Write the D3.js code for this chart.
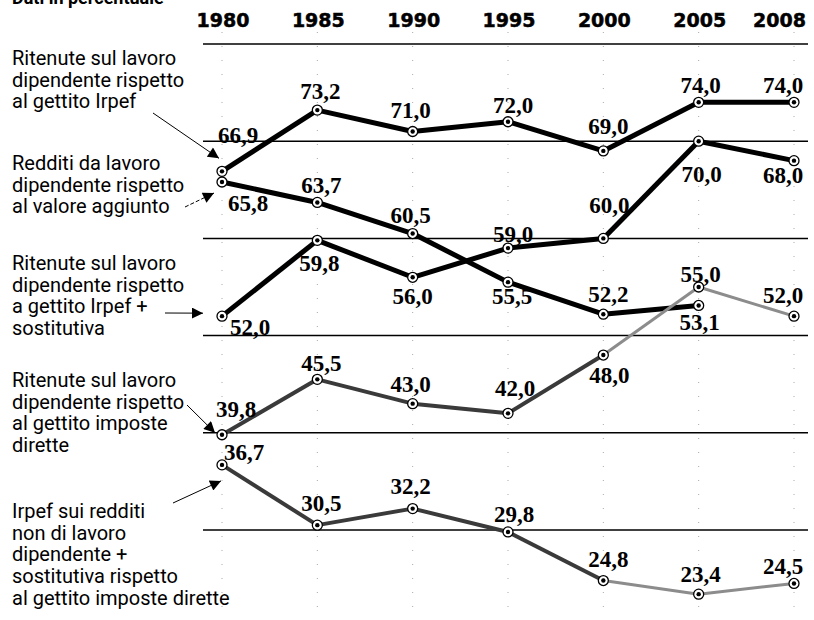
<!DOCTYPE html>
<html>
<head>
<meta charset="utf-8">
<script src="https://cdn.jsdelivr.net/npm/d3@7"></script>
<style>
  body { margin: 0; background: #fff; }
  svg { display: block; }
</style>
</head>
<body>
<div id="chart"></div>
<script>
// data (percentuali)
const years = ["1980", "1985", "1990", "1995", "2000", "2005", "2008"];
const ritenuteIrpef = [66.9, 73.2, 71.0, 72.0, 69.0, 74.0, 74.0];
const redditiValoreAggiunto = [65.8, 63.7, 60.5, 55.5, 52.2, 53.1, null];
const ritenuteIrpefSostitutiva = [52.0, 59.8, 56.0, 59.0, 60.0, 70.0, 68.0];
const ritenuteImposteDirette = [39.8, 45.5, 43.0, 42.0, 48.0, 55.0, 52.0];
const irpefNonLavoro = [36.7, 30.5, 32.2, 29.8, 24.8, 23.4, 24.5];
const gridValues = [80, 70, 60, 50, 40, 30];

const seriesNames = [
  ["Ritenute sul lavoro", "dipendente rispetto", "al gettito Irpef"],
  ["Redditi da lavoro", "dipendente rispetto", "al valore aggiunto"],
  ["Ritenute sul lavoro", "dipendente rispetto", "a gettito Irpef +", "sostitutiva"],
  ["Ritenute sul lavoro", "dipendente rispetto", "al gettito imposte", "dirette"],
  ["Irpef sui redditi", "non di lavoro", "dipendente +", "sostitutiva rispetto", "al gettito imposte dirette"]
];
const title = "Dati in percentuale";

// layout: value-label offsets from each point, and where the lighter grey starts
const labelOffsets = [
  [[16, -28], [3, -11], [-2, -13], [5, -9], [5, -17], [2, -9], [-11, -9]],
  [[26, 29], [4, -9], [-2, -11], [4, 22], [5, -12], [1, 25], null],
  [[28, 19], [2, 31], [0, 27], [5, -6], [6, -25], [3, 41], [-11, 22]],
  [[14, -18], [4, -8], [-2, -12], [7, -17], [6, 28], [2, -5], [-11, -13]],
  [[22, -5], [4, -14], [-2, -15], [6, -10], [5, -14], [2, -12], [-11, -9]]
];
const nameBaselines = [65, 170, 270, 387, 518];
// arrow: start point, tip offset from the series' first point
const arrows = [
  {from: [153, 113], tip: [-3, -13]},
  {from: [185, 207], tip: [-8, 11], dash: "4,2"},
  {from: [165, 313], tip: [-19, -3]},
  {from: [187, 405], tip: [-7, -2]},
  {from: [173, 503], tip: [-1, 16]}
];

const series = [ritenuteIrpef, redditiValoreAggiunto, ritenuteIrpefSostitutiva,
                ritenuteImposteDirette, irpefNonLavoro];
const seriesStyle = [
  {color: "#000", width: 5},
  {color: "#000", width: 5},
  {color: "#000", width: 5},
  {color: "#3a3a3a", width: 4, fadeFrom: 4},
  {color: "#3a3a3a", width: 4, fadeFrom: 4}
];

const width = 814, height = 620;

const svg = d3.select("#chart").append("svg")
    .attr("width", width)
    .attr("height", height);

svg.append("defs").append("marker")
    .attr("id", "arrowhead")
    .attr("viewBox", "0 0 10 10")
    .attr("refX", 10).attr("refY", 5)
    .attr("markerWidth", 13).attr("markerHeight", 11)
    .attr("markerUnits", "userSpaceOnUse")
    .attr("orient", "auto")
    .append("path")
    .attr("d", "M0,0L10,5L0,10Z")
    .attr("fill", "#000");

const x = d3.scalePoint().domain(years).range([222, 794]);
const y = d3.scaleLinear().domain([30, 80]).range([530, 44]);

// title (cropped at top in the original)
svg.append("text")
    .attr("x", 12).attr("y", 4)
    .attr("font-family", "Roboto, sans-serif")
    .attr("font-weight", "bold")
    .attr("font-size", 18)
    .text(title);

// year labels
svg.append("g").selectAll("text").data(years)
    .join("text")
    .attr("x", (d, i) => i === years.length - 1 ? x(d) + 12 : x(d) + 1)
    .attr("y", 27)
    .attr("text-anchor", (d, i) => i === years.length - 1 ? "end" : "middle")
    .attr("font-family", "DejaVu Sans, sans-serif")
    .attr("font-weight", "bold")
    .attr("font-size", 19)
    .attr("stroke", "#000")
    .attr("stroke-width", 0.5)
    .text(d => d);

// faint dotted verticals
svg.append("g").selectAll("line").data(years)
    .join("line")
    .attr("x1", d => x(d)).attr("x2", d => x(d))
    .attr("y1", 32).attr("y2", 612)
    .attr("stroke", "#aaa")
    .attr("stroke-width", 1)
    .attr("stroke-dasharray", "1,13");

// horizontal rules
svg.append("g").selectAll("line").data(gridValues)
    .join("line")
    .attr("x1", 203).attr("x2", 808)
    .attr("y1", d => y(d)).attr("y2", d => y(d))
    .attr("stroke", "#000")
    .attr("stroke-width", 1.5);

// lines, one segment at a time so the later part can be lighter
const segLayer = svg.append("g").attr("fill", "none").attr("stroke-linecap", "butt");
series.forEach((vals, si) => {
  const st = seriesStyle[si];
  for (let i = 0; i < vals.length - 1; i++) {
    if (vals[i] == null || vals[i + 1] == null) continue;
    const faded = st.fadeFrom != null && i >= st.fadeFrom;
    segLayer.append("line")
        .attr("x1", x(years[i])).attr("y1", y(vals[i]))
        .attr("x2", x(years[i + 1])).attr("y2", y(vals[i + 1]))
        .attr("stroke", faded ? "#8c8c8c" : st.color)
        .attr("stroke-width", faded ? 3 : st.width);
  }
});

// point markers
series.forEach((vals, si) => {
  const pts = vals.map((v, i) => ({v, year: years[i]})).filter(d => d.v != null);
  const g = svg.append("g");
  g.selectAll("circle.outer").data(pts)
      .join("circle")
      .attr("class", "outer")
      .attr("cx", d => x(d.year)).attr("cy", d => y(d.v))
      .attr("r", 5)
      .attr("fill", "#fff")
      .attr("stroke", "#000")
      .attr("stroke-width", 1.3);
  g.selectAll("circle.inner").data(pts)
      .join("circle")
      .attr("class", "inner")
      .attr("cx", d => x(d.year)).attr("cy", d => y(d.v))
      .attr("r", 2.2)
      .attr("fill", "#000");
});

// value labels
const fmt = v => d3.format(".1f")(v).replace(".", ",");
series.forEach((vals, si) => {
  const pts = vals.map((v, i) => ({v, i})).filter(d => d.v != null);
  svg.append("g").selectAll("text").data(pts)
      .join("text")
      .attr("x", d => x(years[d.i]) + labelOffsets[si][d.i][0])
      .attr("y", d => y(d.v) + labelOffsets[si][d.i][1])
      .attr("text-anchor", "middle")
      .attr("font-family", "Liberation Serif, serif")
      .attr("font-weight", "bold")
      .attr("font-size", 23)
      .attr("fill", "#000")
      .text(d => fmt(d.v));
});

// series names on the left
seriesNames.forEach((lines, si) => {
  svg.append("text")
      .attr("font-family", "Roboto, sans-serif")
      .attr("font-size", 20)
      .attr("fill", "#000")
      .selectAll("tspan").data(lines)
      .join("tspan")
      .attr("x", 12)
      .attr("y", (d, i) => nameBaselines[si] + i * 21.7)
      .text(d => d);
});

// arrows from names to the first point
arrows.forEach((a, si) => {
  const tipX = x(years[0]) + a.tip[0];
  const tipY = y(series[si][0]) + a.tip[1];
  svg.append("line")
      .attr("x1", a.from[0]).attr("y1", a.from[1])
      .attr("x2", tipX).attr("y2", tipY)
      .attr("stroke", "#000")
      .attr("stroke-width", 1)
      .attr("stroke-dasharray", a.dash || null)
      .attr("marker-end", "url(#arrowhead)");
});
</script>
</body>
</html>
